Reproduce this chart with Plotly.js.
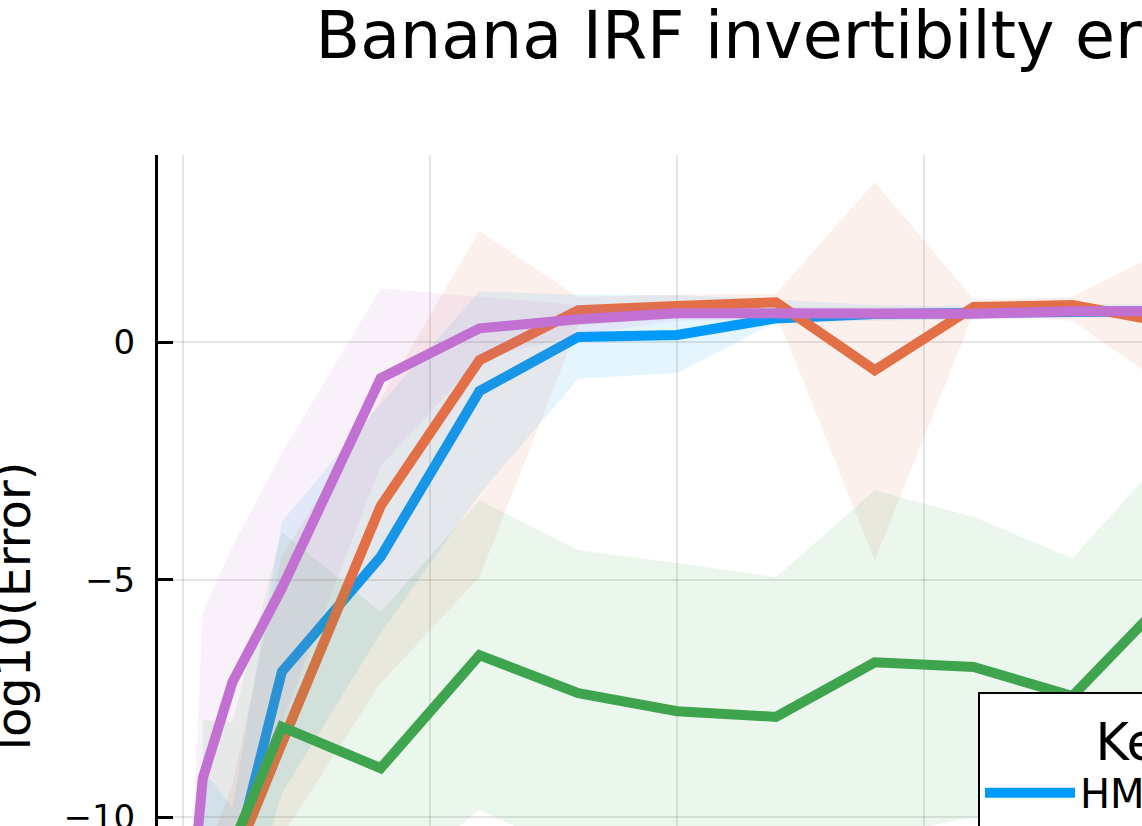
<!DOCTYPE html>
<html>
<head>
<meta charset="utf-8">
<script src="https://cdn.plot.ly/plotly-3.0.1.min.js"></script>
<style>
  html, body { margin: 0; padding: 0; overflow: hidden; background: #fff; }
  /* the reference is the top-left corner of a bigger figure, so the plot is
     drawn larger than the window and clipped */
  #frame { position: relative; width: 1142px; height: 826px; overflow: hidden; }
  #chart { position: absolute; left: -60px; top: 0; width: 1500px; height: 1177px; }
</style>
</head>
<body>
<div id="frame"><div id="chart"></div></div>
<script>
// x positions of the runs (shared by all kernels)
const steps = [0.2, 0.4, 1, 2, 4, 6, 8, 10, 12, 14, 16, 18, 20];

// log10(Error): mean line plus ribbon bounds, null where a kernel has no value
const hmcMean  = [null, -13.0, -11.1, -6.94, -4.52, -1.03, 0.11, 0.15, 0.50, 0.59, 0.60, 0.65, 0.66];
const hmcHi    = [null, -9.0, -9.8, -3.78, -1.30, 1.07, 1.00, 0.99, 0.90, 0.78, 0.75, 0.80, 0.80];
const hmcLo    = [null, -14.0, -13.0, -9.5, -6.13, -3.20, -0.77, -0.65, 0.42, 0.45, 0.48, 0.52, 0.52];

const malaMean = [null, -13.0, -11.0, -8.45, -3.45, -0.38, 0.67, 0.76, 0.84, -0.59, 0.74, 0.78, 0.40];
const malaHi   = [null, -11.0, -9.3, -4.5, -1.20, 2.34, 0.95, 1.00, 1.02, 3.37, 0.90, 0.95, 2.00];
const malaLo   = [null, -14.5, -13.0, -10.4, -7.18, -4.95, 0.35, 0.50, 0.62, -4.59, 0.60, 0.45, -1.00];

const rwmMean  = [null, -12.0, -10.6, -8.10, -8.97, -6.59, -7.39, -7.77, -7.89, -6.74, -6.84, -7.45, -5.30];
const rwmHi    = [null, -7.96, -8.0, -4.0, -5.68, -3.33, -4.38, -4.65, -4.95, -3.12, -3.68, -4.55, -2.25];
const rwmLo    = [null, -14.5, -14.0, -13.0, -11.5, -9.85, -10.8, -11.0, -10.8, -10.4, -10.0, -10.4, -9.5];

const nutsMean = [-11.45, -9.18, -7.16, -5.18, -0.76, 0.29, 0.48, 0.61, 0.61, 0.60, 0.60, 0.65, 0.65];
const nutsHi   = [-10.3, -5.68, -4.3, -2.34, 1.13, 0.95, 0.78, 0.75, 0.74, 0.73, 0.73, 0.76, 0.76];
const nutsLo   = [-13.6, -12.5, -10.3, -8.0, -2.6, -0.35, 0.15, 0.45, 0.47, 0.47, 0.47, 0.52, 0.52];

const kernels = [
  { name: 'HMC',  mean: hmcMean,  hi: hmcHi,  lo: hmcLo,  color: '#009afa', fill: 'rgba(0,154,250,0.10)' },
  { name: 'MALA', mean: malaMean, hi: malaHi, lo: malaLo, color: '#e26f46', fill: 'rgba(226,111,70,0.10)' },
  { name: 'RWM',  mean: rwmMean,  hi: rwmHi,  lo: rwmLo,  color: '#3ea44e', fill: 'rgba(62,164,78,0.10)' },
  { name: 'NUTS', mean: nutsMean, hi: nutsHi, lo: nutsLo, color: '#c271d2', fill: 'rgba(194,113,210,0.10)' },
];

// closed ribbon polygon: upper bound left->right, lower bound right->left
function ribbon(hi, lo) {
  const idx = steps.map((_, i) => i).filter((i) => hi[i] !== null && lo[i] !== null);
  const back = idx.slice().reverse();
  return {
    x: idx.map((i) => steps[i]).concat(back.map((i) => steps[i])),
    y: idx.map((i) => hi[i]).concat(back.map((i) => lo[i])),
  };
}

const traces = [];
kernels.forEach((k) => {
  const r = ribbon(k.hi, k.lo);
  traces.push({ x: r.x, y: r.y, mode: 'lines', fill: 'toself', fillcolor: k.fill,
    line: { width: 0, color: k.fill }, showlegend: false, hoverinfo: 'skip' });
  traces.push({ x: steps, y: k.mean, name: k.name, mode: 'lines',
    line: { color: k.color, width: 10 } });
});

const GRID = 'rgba(0,0,0,0.1)';
const layout = {
  width: 1500, height: 1177,
  paper_bgcolor: '#fff', plot_bgcolor: '#fff',
  font: { family: 'DejaVu Sans, sans-serif', color: '#000' },
  margin: { l: 218, r: 36, t: 155, b: 120 },
  title: { text: 'Banana IRF invertibilty error', font: { size: 65 },
    xref: 'paper', x: 0.4944, xanchor: 'center', yref: 'container', y: 0.9898, yanchor: 'top', pad: { t: 0 } },
  xaxis: { range: [-0.506, 24.71], tickvals: [0, 5, 10, 15, 20], showgrid: true, gridcolor: GRID, gridwidth: 2,
    zeroline: false, showline: true, linecolor: '#000', linewidth: 3,
    ticks: 'inside', ticklen: 15, tickwidth: 3, tickcolor: '#000', tickfont: { size: 34 } },
  yaxis: { range: [-15.05, 3.94], tickvals: [-15, -10, -5, 0], showgrid: true, gridcolor: GRID, gridwidth: 2,
    zeroline: false, showline: true, linecolor: '#000', linewidth: 3,
    ticks: 'inside', ticklen: 15, tickwidth: 3, tickcolor: '#000', tickfont: { size: 34 },
    ticklabelstandoff: 13,
    title: { text: 'log10(Error)', font: { size: 48 }, standoff: 18 } },
  // the legend title is centred over a wide box in the reference; the
  // leading no-break spaces put it where it sits there
  legend: { x: 0.6581, y: 0.4047, xanchor: 'left', yanchor: 'top', bgcolor: '#fff',
    bordercolor: '#000', borderwidth: 2, font: { size: 40 }, itemwidth: 90,
    title: { text: '\u00a0\u00a0\u00a0\u00a0\u00a0\u00a0\u00a0Kernel', side: 'top center', font: { size: 51 } } },
  showlegend: true,
  hovermode: false,
};

Plotly.newPlot('chart', traces, layout, { displayModeBar: false, staticPlot: true });
</script>
</body>
</html>
